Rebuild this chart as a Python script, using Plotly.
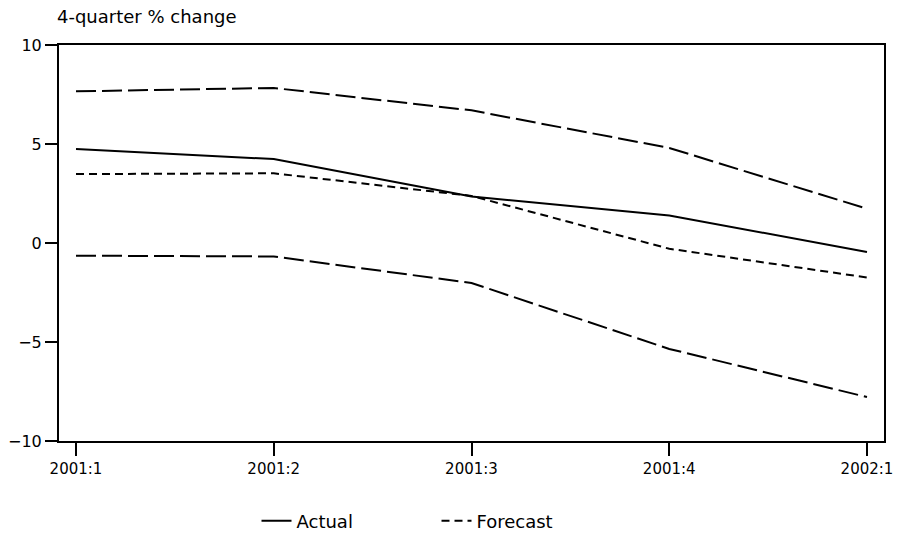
import plotly.graph_objects as go

quarters = ["2001:1", "2001:2", "2001:3", "2001:4", "2002:1"]
actual = [4.75, 4.24, 2.35, 1.39, -0.45]
forecast = [3.48, 3.52, 2.38, -0.29, -1.74]
upper = [7.66, 7.83, 6.70, 4.80, 1.73]
lower = [-0.64, -0.68, -2.02, -5.35, -7.78]
y_ticks = [-10, -5, 0, 5, 10]

FONT = "DejaVu Sans, Liberation Sans, sans-serif"

fig = go.Figure()
fig.add_trace(go.Scatter(x=quarters, y=upper, mode="lines", showlegend=False,
                         line=dict(color="black", width=2, dash="20px,6px")))
fig.add_trace(go.Scatter(x=quarters, y=lower, mode="lines", showlegend=False,
                         line=dict(color="black", width=2, dash="20px,6px")))
fig.add_trace(go.Scatter(x=quarters, y=actual, mode="lines", name="Actual",
                         line=dict(color="black", width=2)))
fig.add_trace(go.Scatter(x=quarters, y=forecast, mode="lines", name="Forecast",
                         line=dict(color="black", width=2, dash="8px,5px")))

fig.update_layout(
    width=899, height=537,
    margin=dict(l=59, r=15, t=45, b=96, autoexpand=False),
    paper_bgcolor="white", plot_bgcolor="white",
    font=dict(family=FONT, color="black", size=16),
    showlegend=True,
    legend=dict(orientation="h", x=0.2394, xanchor="left", y=0.0298, yanchor="middle",
                yref="container",
                font=dict(size=18), entrywidth=135, entrywidthmode="pixels",
                bgcolor="rgba(0,0,0,0)"),
    annotations=[dict(text="4-quarter % change", xref="paper", yref="paper",
                      x=0, y=1.073, xanchor="left", yanchor="middle", xshift=-4,
                      showarrow=False, font=dict(size=18, family=FONT))],
)
fig.update_xaxes(type="category", range=[-0.086, 4.086], showline=True, linecolor="black",
                 linewidth=2, mirror=True, ticks="outside", ticklen=13, tickwidth=2,
                 tickcolor="black", showgrid=False, zeroline=False, automargin=False,
                 tickfont=dict(size=15))
fig.update_yaxes(range=[-10, 10], tickvals=y_ticks, showline=True, linecolor="black",
                 linewidth=2, mirror=True, ticks="outside", ticklen=12, tickwidth=2,
                 tickcolor="black", showgrid=False, zeroline=False, automargin=False,
                 tickfont=dict(size=16), ticklabelstandoff=0)

fig.write_html("out.html", config={"displayModeBar": False},
               post_script="document.body.style.margin='0';document.body.style.overflow='hidden';")
